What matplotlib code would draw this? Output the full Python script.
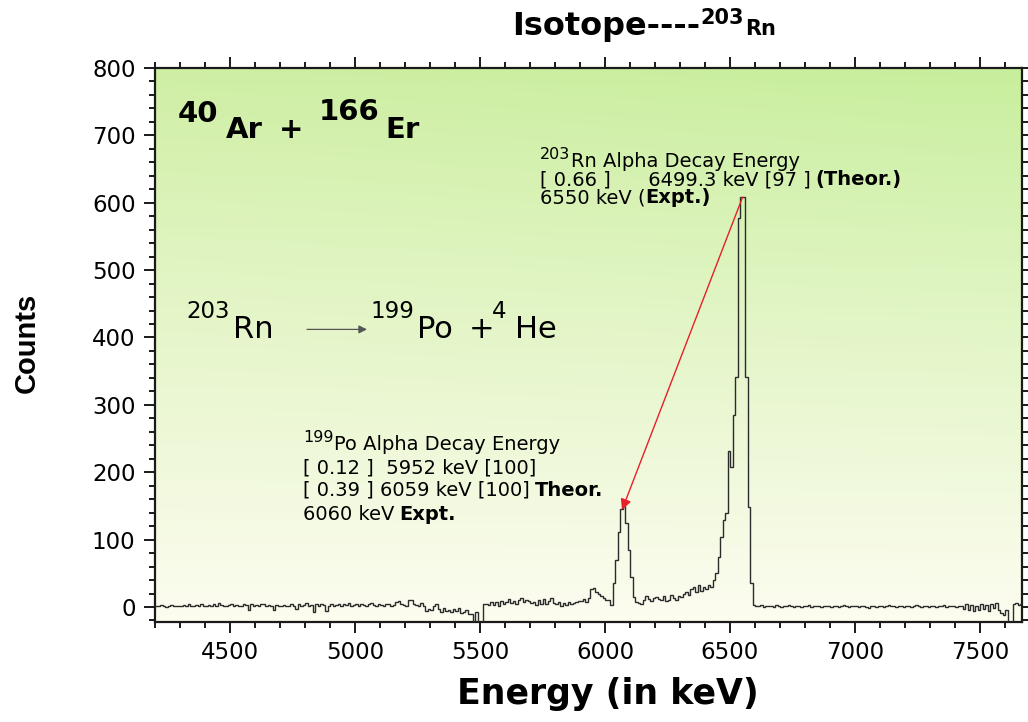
import matplotlib
matplotlib.use('Agg')
import numpy as np
import matplotlib.pyplot as plt
from matplotlib.ticker import MultipleLocator

# spectrum: 10 keV bins starting at 4200 keV (counts)
bin_start = 4200
bin_width = 10
counts = [
    2, 1, 3, 2, 0, 2, 3, 1, 2, 2,            # 4200
    1, 3, 2, 4, 2, 1, 3, 2, 5, 1,            # 4300
    2, 3, 1, 4, 2, 6, 3, 2, 1, 3,            # 4400
    4, 2, 3, 1, 2, 5, 3, -5, 4, 2,           # 4500
    3, 1, 4, 4, 2, 3, 2, -4, 3, 2,           # 4600
    1, 3, 2, 1, 5, 2, -3, 4, 2, 3,           # 4700
    6, 2, 3, -7, 4, 1, 5, 3, -6, 2,          # 4800
    4, 2, 3, 5, 2, 4, 3, 6, 2, 3,            # 4900
    4, 2, 5, 3, 1, 4, 6, 3, 2, 5,            # 5000
    3, 2, 5, 4, 2, 3, 8, 9, 4, 3,            # 5100
    2, 10, 11, 5, 3, 1, 6, 2, -6, -3,        # 5200
    -5, 2, 4, -3, -7, -2, -6, -4, -8, -3,    # 5300
    -6, -2, -9, -7, -5, -11, -10, -30, -8, -30,  # 5400
    -30, 4, 5, 3, 7, 3, 8, 2, 9, 5,          # 5500
    7, 12, 6, 9, 5, 10, 14, 8, 11, 9,        # 5600
    6, 8, 3, 11, 5, 12, 4, 9, 13, 6,         # 5700
    4, 7, 2, 6, 3, 8, 5, 6, 7, 9,            # 5800
    9, 12, 8, 13, 27, 28, 22, 19, 16, 13,    # 5900
    11, 10, 3, 35, 70, 112, 145, 150, 125, 85,   # 6000
    45, 15, 8, 6, 5, 10, 16, 12, 9, 13,      # 6100
    15, 12, 10, 16, 9, 11, 18, 14, 11, 17,   # 6200
    15, 19, 22, 18, 26, 30, 22, 33, 24, 30,  # 6300
    27, 32, 29, 40, 50, 74, 104, 129, 140, 232,  # 6400
    208, 285, 341, 577, 608, 608, 341, 148, 36, 3,  # 6500
    2, 1, 3, 0, 2, 1, 2, 0, 3, 1,            # 6600
    0, 2, 1, 3, 1, 0, 2, 1, 0, 2,            # 6700
    1, 3, 0, 2, 1, 2, 0, 1, 2, 1,            # 6800
    0, 1, 2, 0, 1, 3, 1, 0, 2, 1,            # 6900
    1, 0, 2, 1, 0, -2, 1, 2, 0, 1,           # 7000
    2, 0, 1, 3, 1, 2, 0, 1, 2, 0,            # 7100
    1, 2, 0, 1, 3, 1, 0, 2, 1, 0,            # 7200
    2, 1, 0, 2, 1, 3, 0, 1, 2, 1,            # 7300
    0, 2, 1, -3, 4, -5, 3, -6, 2, -4,        # 7400
    5, -3, 3, -6, 4, -2, 6, -4, -9, -12,     # 7500
    -5, -30, -30, 5, 6, 3, 4,                # 7600
]
edges = bin_start + bin_width * np.arange(len(counts) + 1)

# red arrow: from the 203Rn peak to the 199Po peak
rn_peak = (6550, 608)
po_peak = (6068, 144)

W, H = 1028, 722
fig = plt.figure(figsize=(W / 100, H / 100), dpi=100)
ax = fig.add_axes([155 / W, 1 - 622 / H, (1022 - 155) / W, (622 - 68) / H])
xlim = (4200, 7668)
ylim = (-22.3, 800)

# background gradient, green on top fading to cream
ny, nx = 200, 60
ty = np.linspace(0, 1, ny)[:, None] ** 0.9
tx = np.linspace(0, 1, nx)[None, :]
top = np.array([0.81, 0.935, 0.64])
bot = np.array([0.99, 0.99, 0.94])
g = top[None, None, :] * (1 - ty[..., None]) + bot[None, None, :] * ty[..., None]
g = g - 0.03 * tx[..., None] * (1 - ty[..., None]) * np.array([1, 0, 1])
ax.imshow(np.clip(g, 0, 1), extent=[xlim[0], xlim[1], ylim[0], ylim[1]],
          aspect='auto', zorder=0, interpolation='bicubic')

ax.stairs(counts, edges, color='#2b2b2b', lw=1.0, zorder=3)

ax.set_xlim(*xlim)
ax.set_ylim(*ylim)
ax.xaxis.set_major_locator(MultipleLocator(500))
ax.xaxis.set_minor_locator(MultipleLocator(100))
ax.yaxis.set_major_locator(MultipleLocator(100))
ax.yaxis.set_minor_locator(MultipleLocator(20))
ax.tick_params(which='both', direction='out', top=True, right=True, width=1.4, color='#1a1a1a')
ax.tick_params(which='major', length=8, labelsize=16.5, pad=6)
ax.tick_params(which='minor', length=4.5)
for sp in ax.spines.values():
    sp.set_linewidth(1.6)
    sp.set_color('#1a1a1a')

ax.annotate('', xy=po_peak, xytext=rn_peak,
            arrowprops=dict(arrowstyle='-|>', color='#e8202a', lw=1.0,
                            mutation_scale=16, shrinkA=0, shrinkB=0), zorder=4)
ax.annotate('', xy=(5048, 412), xytext=(4808, 412),
            arrowprops=dict(arrowstyle='-|>', color='#555555', lw=0.9,
                            mutation_scale=12, shrinkA=0, shrinkB=0), zorder=4)

renderer = fig.canvas.get_renderer()


def rich(x, y, parts, anchor='left'):
    # parts: (text, size, weight, rise_px, gap_px), laid out left to right from pixel (x, y)
    texts = []
    cur = x
    for s, size, weight, rise, gap in parts:
        cur += gap
        t = fig.text(cur / W, (H - y + rise) / H, s, fontsize=size, fontweight=weight,
                     ha='left', va='baseline', zorder=5)
        cur = t.get_window_extent(renderer).x1
        texts.append(t)
    shift = 0
    if anchor == 'center':
        shift = -(cur - x) / 2
    for t in texts:
        t.set_x(t.get_position()[0] + shift / W)


# title
rich(644, 35, [('Isotope----', 23, 'bold', 0, 0), ('203', 15, 'bold', 11, 1),
               ('Rn', 15, 'bold', 0, 1)], anchor='center')

# reaction labels
rich(178, 138, [('40', 21, 'bold', 16, 0), ('Ar', 21, 'bold', 0, 7), ('+', 21, 'bold', 0, 16),
                ('166', 21, 'bold', 18, 16), ('Er', 21, 'bold', 0, 6)])
rich(186, 338, [('203', 16.5, 'normal', 20, 0), ('Rn', 22, 'normal', 0, 3)])
rich(370, 338, [('199', 16.5, 'normal', 20, 0), ('Po', 22, 'normal', 0, 3)])
rich(469, 338, [('+', 22, 'normal', 0, 0)])
rich(492, 338, [('4', 16.5, 'normal', 20, 0), ('He', 22, 'normal', 0, 8)])

# 203Rn annotation
rich(540, 167, [('203', 11.5, 'normal', 8, 0), ('Rn Alpha Decay Energy', 14, 'normal', 0, 1)])
rich(540, 185, [('[ 0.66 ]      6499.3 keV [97 ]', 14, 'normal', 0, 0), ('(Theor.)', 14, 'bold', 0, 5)])
rich(540, 203, [('6550 keV (', 14, 'normal', 0, 0), ('Expt.)', 14, 'bold', 0, 0)])

# 199Po annotation
rich(303, 450, [('199', 11.5, 'normal', 8, 0), ('Po Alpha Decay Energy', 14, 'normal', 0, 1)])
rich(303, 473, [('[ 0.12 ]  5952 keV [100]', 14, 'normal', 0, 0)])
rich(303, 496, [('[ 0.39 ] 6059 keV [100]', 14, 'normal', 0, 0), ('Theor.', 14, 'bold', 0, 5)])
rich(303, 520, [('6060 keV', 14, 'normal', 0, 0), ('Expt.', 14, 'bold', 0, 5)])

fig.text(608 / W, 1 - 694 / H, 'Energy (in keV)', fontsize=25, fontweight='bold',
         ha='center', va='center')
fig.text(27 / W, 1 - 343 / H, 'Counts', fontsize=21, fontweight='bold', rotation=90,
         ha='center', va='center', family=['Liberation Sans Narrow', 'Liberation Sans'])

fig.savefig('out.png', dpi=100, facecolor='white')
